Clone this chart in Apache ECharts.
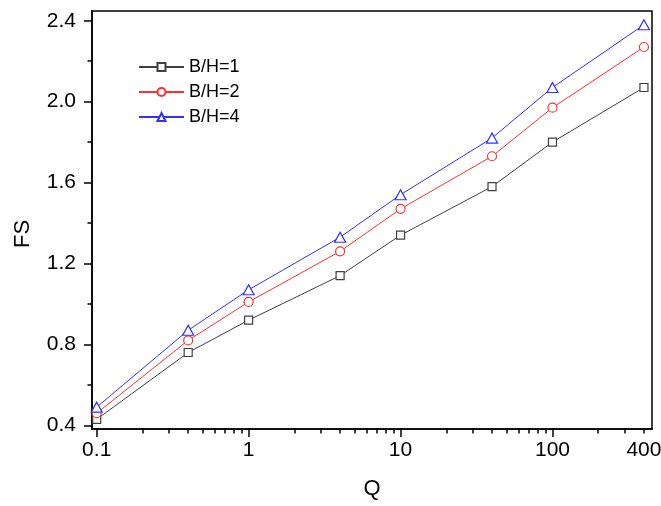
<!DOCTYPE html>
<html>
<head>
<meta charset="utf-8">
<script src="https://cdn.jsdelivr.net/npm/echarts@6/dist/echarts.min.js"></script>
<style>html,body{margin:0;padding:0;background:#fff}#c{width:661px;height:506px}</style>
</head>
<body>
<div id="c"></div>
<script>
var qValues = [0.1, 0.4, 1, 4, 10, 40, 100, 400];
var bh1 = [0.43, 0.76, 0.92, 1.14, 1.34, 1.58, 1.80, 2.07];
var bh2 = [0.46, 0.82, 1.01, 1.26, 1.47, 1.73, 1.97, 2.27];
var bh4 = [0.49, 0.87, 1.07, 1.33, 1.54, 1.82, 2.07, 2.38];
var seriesNames = ['B/H=1', 'B/H=2', 'B/H=4'];
var xMajorTicks = [0.1, 1, 10, 100];
var xLabels = [0.1, 1, 10, 100, 400];
var xMinorTicks = [0.2,0.3,0.4,0.5,0.6,0.7,0.8,0.9,2,3,4,5,6,7,8,9,20,30,40,50,60,70,80,90,200,300,400];
var yMajorTicks = [0.4, 0.8, 1.2, 1.6, 2.0, 2.4];
var yMinorTicks = [0.6, 1.0, 1.4, 1.8, 2.2];

var font = 'Liberation Sans, Arial, sans-serif';
var colors = ['#404040', '#ff3030', '#3030ff'];
var symbols = ['rect', 'circle', 'triangle'];
var sizes = [8, 9, [11, 10]];
var allData = [bh1, bh2, bh4];

function pairs(ys) { return qValues.map(function (q, i) { return [q, ys[i]]; }); }

var X_MIN = 0.0931, X_MAX = 452, Y_MIN = 0.382, Y_MAX = 2.448;

var chart = echarts.init(document.getElementById('c'), null, {renderer: 'canvas'});
chart.setOption({
  animation: false,
  backgroundColor: '#fff',
  grid: {left: 92, right: 9, top: 11, bottom: 77, outerBoundsMode: 'none', containLabel: false,
    show: true, borderColor: '#000', borderWidth: 1.5, backgroundColor: 'transparent'},
  legend: {
    orient: 'vertical', left: 138, top: 58, padding: 0, itemWidth: 45, itemHeight: 10, itemGap: 7,
    textStyle: {fontFamily: font, fontSize: 18, color: '#000'},
    data: seriesNames
  },
  xAxis: [{
    type: 'log', min: X_MIN, max: X_MAX, position: 'bottom',
    name: 'Q', nameLocation: 'middle', nameGap: 49,
    nameTextStyle: {fontFamily: font, fontSize: 22, color: '#000'},
    axisLine: {show: true, lineStyle: {color: '#000', width: 1.5}},
    axisTick: {show: true, length: 8, customValues: xMajorTicks, lineStyle: {color: '#000', width: 1.5}},
    axisLabel: {customValues: xLabels, fontFamily: font, fontSize: 21, color: '#000', margin: 11,
      formatter: function (v) { return String(v); }},
    splitLine: {show: false}, minorTick: {show: false}
  }, {
    type: 'log', min: X_MIN, max: X_MAX, position: 'bottom',
    axisLine: {show: false},
    axisTick: {show: true, length: 4.5, customValues: xMinorTicks, lineStyle: {color: '#000', width: 1.5}},
    axisLabel: {show: false}, splitLine: {show: false}
  }],
  yAxis: [{
    type: 'value', min: Y_MIN, max: Y_MAX, position: 'left',
    name: 'FS', nameLocation: 'middle', nameGap: 58,
    nameTextStyle: {fontFamily: font, fontSize: 22, color: '#000', padding: [0, 28, 0, 0]},
    axisLine: {show: true, lineStyle: {color: '#000', width: 1.5}},
    axisTick: {show: true, length: 8, customValues: yMajorTicks, lineStyle: {color: '#000', width: 1.5}},
    axisLabel: {customValues: yMajorTicks, fontFamily: font, fontSize: 21, color: '#000', margin: 16,
      formatter: function (v) { return v.toFixed(1); }},
    splitLine: {show: false}
  }, {
    type: 'value', min: Y_MIN, max: Y_MAX, position: 'left',
    axisLine: {show: false},
    axisTick: {show: true, length: 4.5, customValues: yMinorTicks, lineStyle: {color: '#000', width: 1.5}},
    axisLabel: {show: false}, splitLine: {show: false}
  }],
  series: allData.map(function (d, i) {
    return {
      name: seriesNames[i], type: 'line', xAxisIndex: 0, yAxisIndex: 0,
      data: pairs(d), symbol: symbols[i], symbolSize: sizes[i], showSymbol: true,
      lineStyle: {color: colors[i], width: 1},
      itemStyle: {color: '#fff', borderColor: colors[i], borderWidth: 1.2},
      z: 3 + i
    };
  })
});
</script>
</body>
</html>
